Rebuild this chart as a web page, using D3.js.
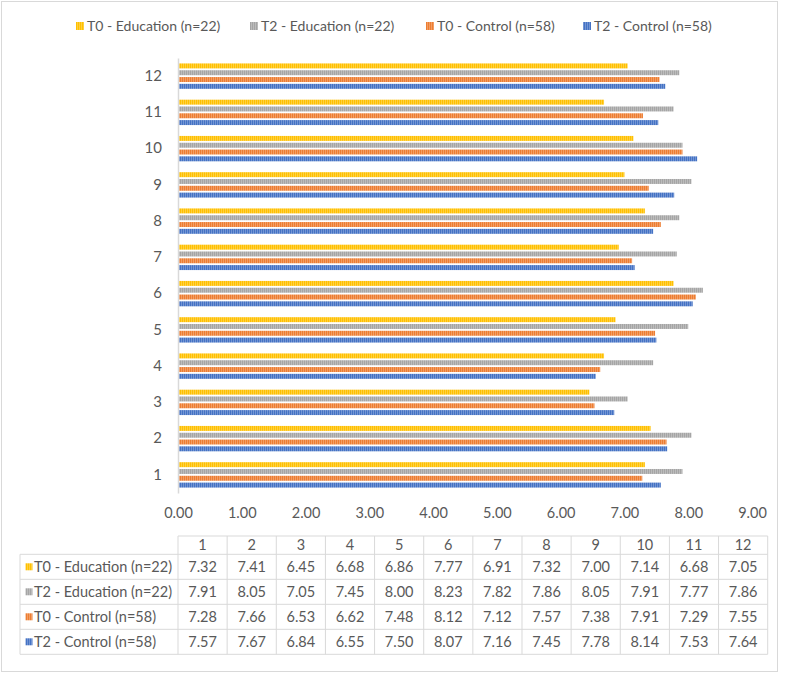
<!DOCTYPE html>
<html><head><meta charset="utf-8">
<script src="https://cdn.jsdelivr.net/npm/d3@7"></script>
<style>body{margin:0;background:#fff}svg{display:block}text{font-family:Lato,"Open Sans",sans-serif;fill:#595959}</style>
</head><body>
<script>
const categories = ["1","2","3","4","5","6","7","8","9","10","11","12"];
const seriesNames = ["T0 - Education (n=22)","T2 - Education (n=22)","T0 - Control (n=58)","T2 - Control (n=58)"];
const seriesColors = ["#FFC000","#A5A5A5","#ED7D31","#4472C4"];
const t0Education = [7.32,7.41,6.45,6.68,6.86,7.77,6.91,7.32,7.00,7.14,6.68,7.05];
const t2Education = [7.91,8.05,7.05,7.45,8.00,8.23,7.82,7.86,8.05,7.91,7.77,7.86];
const t0Control   = [7.28,7.66,6.53,6.62,7.48,8.12,7.12,7.57,7.38,7.91,7.29,7.55];
const t2Control   = [7.57,7.67,6.84,6.55,7.50,8.07,7.16,7.45,7.78,8.14,7.53,7.64];
const xTicks = [0,1,2,3,4,5,6,7,8,9];

const seriesValues = [t0Education,t2Education,t0Control,t2Control];
const W=787,H=674;
const svg=d3.select("body").append("svg").attr("width",W).attr("height",H);

// patterns
const defs=svg.append("defs");
seriesColors.forEach((c,i)=>{
  const p=defs.append("pattern").attr("id","pat"+i).attr("patternUnits","userSpaceOnUse")
    .attr("width",2).attr("height",4);
  p.append("rect").attr("width",2).attr("height",4).attr("fill",c);
  p.append("rect").attr("x",1).attr("width",1).attr("height",4).attr("fill",d3.interpolateRgb(c,"#fff")(0.25));
});

// outer border
svg.append("rect").attr("x",1.5).attr("y",1.5).attr("width",776).attr("height",670)
  .attr("fill","#fff").attr("stroke","#d9d9d9");

// scales
const x=d3.scaleLinear().domain([0,9]).range([178,752]);
const y=d3.scaleBand().domain(categories.slice().reverse()).range([58,493]).paddingInner(0.3).paddingOuter(0.15);
const ys=d3.scaleBand().domain(seriesNames).range([0,y.bandwidth()]).paddingInner(0.27);

// bars
seriesNames.forEach((s,si)=>{
  svg.append("g").selectAll("rect").data(categories).join("rect")
    .attr("x",x(0))
    .attr("y",(c)=>y(c)+ys(s))
    .attr("width",(c,i)=>x(seriesValues[si][i])-x(0))
    .attr("height",ys.bandwidth())
    .attr("fill","url(#pat"+si+")");
});

// y axis
const yAxis=svg.append("g").attr("transform",`translate(${x(0)},0)`)
  .call(d3.axisLeft(y).tickSize(0).tickPadding(16));
yAxis.select(".domain").attr("stroke","#d9d9d9").attr("stroke-width",1.5);
yAxis.selectAll("text").style("font-size","15px").style("fill","#595959");

// x axis labels
const xAxis=svg.append("g").attr("transform",`translate(0,505)`)
  .call(d3.axisBottom(x).tickValues(xTicks).tickSize(0).tickFormat(d3.format(".2f")));
xAxis.select(".domain").remove();
xAxis.selectAll("text").style("font-size","14.5px").style("fill","#595959");

// legend
const legendX=[76,250,426,583];
const lg=svg.append("g");
seriesNames.forEach((s,i)=>{
  lg.append("rect").attr("x",legendX[i]).attr("y",22).attr("width",8).attr("height",8).attr("fill","url(#pat"+i+")");
  lg.append("text").attr("x",legendX[i]+11).attr("y",26.5).attr("dy","0.35em").style("font-size","14px").text(s);
});

// data table
const tL=20,tX0=178,tX1=767.7,hTop=536,hBot=554.3,rowH=25;
const colW=(tX1-tX0)/categories.length;
const tg=svg.append("g");
const lineC="#d9d9d9";
categories.forEach((c,i)=>{
  tg.append("text").attr("x",tX0+colW*(i+0.5)).attr("y",(hTop+hBot)/2).attr("dy","0.35em")
    .attr("text-anchor","middle").style("font-size","14.5px").text(c);
});
seriesNames.forEach((s,si)=>{
  const cy=hBot+rowH*(si+0.5);
  tg.append("rect").attr("x",25.5).attr("y",cy-3.5).attr("width",7).attr("height",7).attr("fill","url(#pat"+si+")");
  tg.append("text").attr("x",34).attr("y",cy).attr("dy","0.35em").style("font-size","14.5px").text(s);
  seriesValues[si].forEach((v,i)=>{
    tg.append("text").attr("x",tX0+colW*(i+0.5)).attr("y",cy).attr("dy","0.35em")
      .attr("text-anchor","middle").style("font-size","14.5px").text(d3.format(".2f")(v));
  });
});
const tBot=hBot+rowH*seriesNames.length;
tg.append("line").attr("x1",tX0).attr("x2",tX1).attr("y1",hTop).attr("y2",hTop).attr("stroke",lineC);
for(let r=0;r<=seriesNames.length;r++){
  const yy=hBot+rowH*r;
  tg.append("line").attr("x1",tL).attr("x2",tX1).attr("y1",yy).attr("y2",yy).attr("stroke",lineC);
}
tg.append("line").attr("x1",tL).attr("x2",tL).attr("y1",hBot).attr("y2",tBot).attr("stroke",lineC);
for(let c=0;c<=categories.length;c++){
  const xx=tX0+colW*c;
  tg.append("line").attr("x1",xx).attr("x2",xx).attr("y1",hTop).attr("y2",tBot).attr("stroke",lineC);
}
</script>
</body></html>
